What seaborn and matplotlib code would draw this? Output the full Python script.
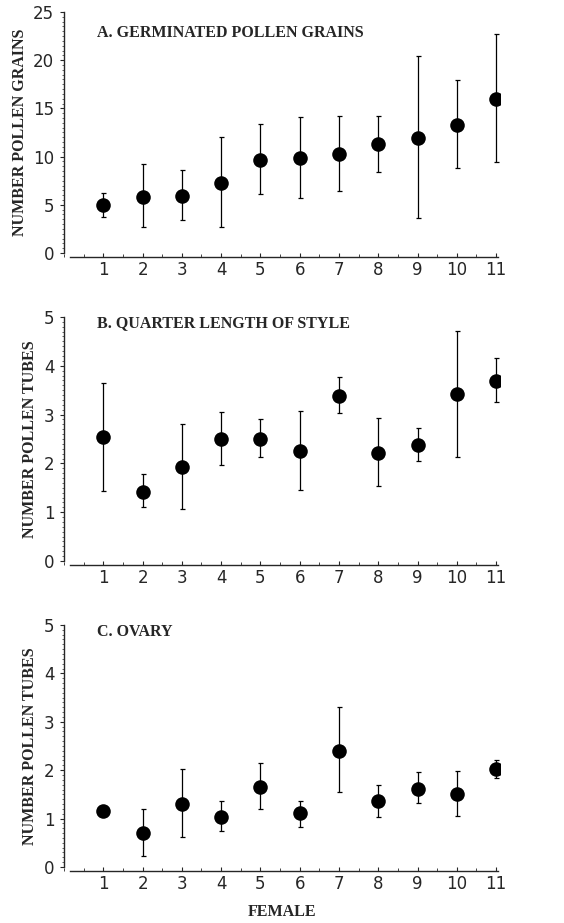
import numpy as np
import matplotlib
matplotlib.use("Agg")
import matplotlib.pyplot as plt
from matplotlib.ticker import MultipleLocator
import seaborn as sns

sns.set_style("white")

# female number on the x axis
females = [1, 2, 3, 4, 5, 6, 7, 8, 9, 10, 11]

# A. germinated pollen grains: mean, upper and lower bar ends
grains_mean = [5.0, 5.85, 5.9, 7.25, 9.65, 9.9, 10.25, 11.3, 11.95, 13.25, 16.0]
grains_hi = [6.2, 9.2, 8.65, 12.0, 13.35, 14.1, 14.25, 14.25, 20.4, 17.9, 22.75]
grains_lo = [3.7, 2.7, 3.4, 2.65, 6.15, 5.75, 6.45, 8.45, 3.6, 8.8, 9.4]

# B. quarter length of style
style_mean = [2.55, 1.42, 1.92, 2.49, 2.49, 2.25, 3.38, 2.21, 2.38, 3.42, 3.69]
style_hi = [3.64, 1.79, 2.81, 3.05, 2.9, 3.07, 3.77, 2.92, 2.73, 4.72, 4.15]
style_lo = [1.44, 1.1, 1.07, 1.97, 2.13, 1.45, 3.04, 1.53, 2.05, 2.14, 3.26]

# C. ovary
ovary_mean = [1.16, 0.71, 1.31, 1.03, 1.65, 1.11, 2.4, 1.37, 1.62, 1.51, 2.03]
ovary_hi = [1.27, 1.2, 2.03, 1.37, 2.14, 1.37, 3.31, 1.7, 1.96, 1.99, 2.21]
ovary_lo = [1.06, 0.23, 0.61, 0.74, 1.19, 0.83, 1.54, 1.04, 1.33, 1.06, 1.84]

panels = [
    ("A. GERMINATED POLLEN GRAINS", "NUMBER POLLEN GRAINS", grains_mean, grains_hi, grains_lo,
     25, 5, 0.5, [0.1135, 0.7259, 0.773, 0.2611], 0.913),
    ("B. QUARTER LENGTH OF STYLE", "NUMBER POLLEN TUBES", style_mean, style_hi, style_lo,
     5, 1, 0.1, [0.1135, 0.3922, 0.773, 0.2644], 0.975),
    ("C. OVARY", "NUMBER POLLEN TUBES", ovary_mean, ovary_hi, ovary_lo,
     5, 1, 0.1, [0.1135, 0.0607, 0.773, 0.2622], 0.972),
]

serif = "Liberation Serif"
fig = plt.figure(figsize=(5.64, 9.23), dpi=100)

for title, ylab, mean, hi, lo, ymax, ymaj, ymin, rect, ty in panels:
    ax = fig.add_axes(rect)
    mean = np.array(mean)
    ax.errorbar(females, mean, yerr=[mean - np.array(lo), np.array(hi) - mean],
                fmt="none", ecolor="black", elinewidth=0.9, capsize=1.8, capthick=0.9)
    sns.scatterplot(x=females, y=mean, ax=ax, color="black", s=110, edgecolor="black",
                    linewidth=0, zorder=3)
    ax.set_xlim(0, 11.1)
    ax.set_ylim(0, ymax)
    ax.xaxis.set_minor_locator(MultipleLocator(0.5))
    ax.yaxis.set_major_locator(MultipleLocator(ymaj))
    ax.yaxis.set_minor_locator(MultipleLocator(ymin))
    ax.set_xticks(females)
    ax.set_xticklabels([str(f) for f in females])
    for s in ["top", "right"]:
        ax.spines[s].set_visible(False)
    ax.spines["left"].set_linewidth(1.0)
    ax.spines["bottom"].set_linewidth(1.0)
    ax.spines["bottom"].set_position(("outward", 3))
    ax.spines["bottom"].set_bounds(0.15, 11.05)
    ax.tick_params(axis="x", which="major", direction="in", length=3, width=0.8,
                   labelsize=12, pad=3, bottom=True)
    ax.tick_params(axis="x", which="minor", direction="in", length=2, width=0.6, bottom=True)
    ax.tick_params(axis="y", which="major", direction="out", length=3, width=0.8,
                   labelsize=12, pad=4, left=True)
    ax.tick_params(axis="y", which="minor", direction="out", length=1.5, width=0.5, left=True)
    ax.set_ylabel(ylab, fontfamily=serif, fontweight="bold", fontsize=11.5, labelpad=4)
    ax.set_xlabel("")
    ax.text(0.076, ty, title, transform=ax.transAxes, fontfamily=serif,
            fontweight="bold", fontsize=11.5, va="center", ha="left")
    ax.grid(False)

fig.text(282 / 564, 1 - 912 / 923, "FEMALE", fontfamily=serif, fontweight="bold",
         fontsize=11.5, ha="center", va="center")

fig.savefig("out.png", dpi=100)
